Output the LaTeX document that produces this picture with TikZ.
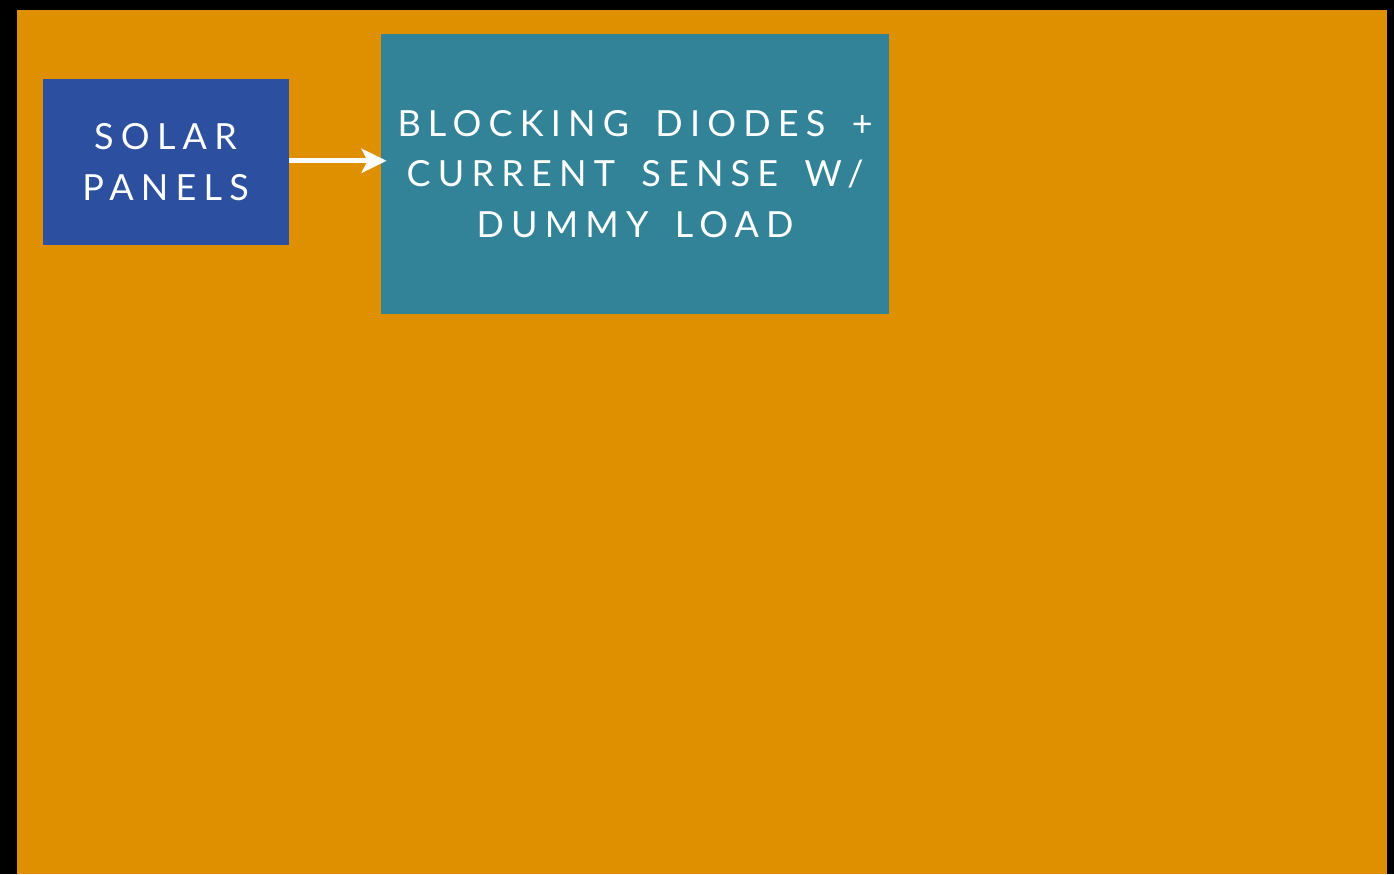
\documentclass[tikz,border=0pt]{standalone}
\usepackage{fontspec}
\usetikzlibrary{arrows.meta}
\newfontfamily\boxfont[LetterSpace=20,WordSpace=1.6]{Lato}
\definecolor{bgorange}{HTML}{DF9000}
\definecolor{solarblue}{HTML}{2C4FA0}
\definecolor{tealbox}{HTML}{338398}
\tikzset{
  blockbox/.style={draw=none, text=white, align=center, inner sep=0pt,
    font={\boxfont\fontsize{18}{25.25}\selectfont}},
  flowarrow/.style={draw=white, line width=2.6pt,
    -{Stealth[length=12.5pt,width=12pt,inset=3pt]}}
}
\begin{document}
\begin{tikzpicture}[x=0.5pt,y=-0.5pt]
\useasboundingbox (0,0) rectangle (1394,874);
\fill[black] (0,0) rectangle (1394,874);
\fill[bgorange] (17,10) rectangle (1387,874);
\node[blockbox, fill=solarblue, minimum width=123pt, minimum height=83pt] (solar) at (165.5,162) {SOLAR\\PANELS};
\node[blockbox, fill=tealbox, minimum width=254pt, minimum height=140pt] (diodes) at (635,174) {BLOCKING DIODES +\\CURRENT SENSE W/\\DUMMY LOAD};
\draw[flowarrow, shorten >=-3pt] ([yshift=0.6pt]solar.east) -- ([yshift=0.6pt]solar.east -| diodes.west);
\end{tikzpicture}
\end{document}
